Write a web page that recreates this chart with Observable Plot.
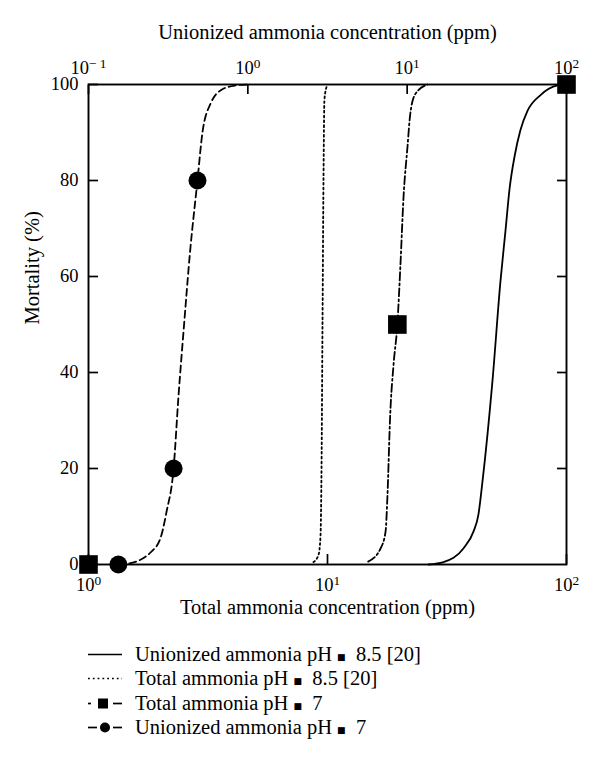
<!DOCTYPE html>
<html><head><meta charset="utf-8">
<script src="https://cdn.jsdelivr.net/npm/d3@7"></script>
<script src="https://cdn.jsdelivr.net/npm/@observablehq/plot@0.6"></script>
<style>
body{margin:0;background:#fff;font-family:"Liberation Serif",serif;color:#000;}
#chart{width:600px;height:622px;}
.legend{margin-top:20px;padding-left:88px;}
.row{height:24.5px;display:flex;align-items:center;font-size:20.5px;white-space:pre;}
.row svg{width:36px;height:25px;margin-right:11px;flex:none;}
.eq{font-family:"DejaVu Sans",sans-serif;font-size:9px;position:relative;top:-1px;}
</style></head><body>
<div id="chart"></div>
<div class="legend" id="legend"></div>
<script>
// ---- axis domains & tick values ----
const unionizedDomain = [0.1, 100];
const totalDomain = [1, 100];
const unionizedTicks = [0.1, 1, 10, 100];
const totalTicks = [1, 10, 100];
const mortalityTicks = [0, 20, 40, 60, 80, 100];

// ---- Unionized ammonia pH 8.5 [20] (solid), unionized ppm ----
const un85Conc = [13.6, 16.9, 22.6, 26.1, 28.0, 29.7, 34.3, 38.5, 41.4, 44.0, 47.2, 51.4, 56.9, 68.7, 87.8, 100];
const un85Mort = [0, 0.5, 3.4, 6.9, 10.4, 17.3, 38.2, 59.0, 69.5, 78.5, 85, 90.5, 94.5, 97.8, 99.8, 100];

// ---- Total ammonia pH 8.5 [20] (dotted), total ppm ----
const tot85Conc = [8.74, 9.17, 9.35, 9.44, 9.53, 9.62, 9.71, 10.0];
const tot85Mort = [0.5, 2, 6, 20, 50, 80, 97, 100];

// ---- Total ammonia pH 7 (dash-dot + squares), total ppm ----
const tot7Conc = [14.8, 16.7, 17.5, 17.8, 18.3, 18.9, 19.6, 20.2, 20.8, 21.6, 22.2, 23.3, 26.2];
const tot7Mort = [0.6, 3.4, 6.9, 13.8, 31.3, 41.7, 50, 62.6, 76.5, 86.9, 93.9, 98, 100];
const tot7PointConc = [1, 19.6, 100];
const tot7PointMort = [0, 50, 100];

// ---- Unionized ammonia pH 7 (dashed + circles), unionized ppm ----
const un7Conc = [0.154, 0.1835, 0.212, 0.245, 0.283, 0.309, 0.342, 0.367, 0.398, 0.4335, 0.483, 0.519, 0.583, 0.693, 0.837, 0.995];
const un7Mort = [0, 0.3, 1, 2.5, 5.5, 11, 20, 35, 50, 65, 80, 90, 96, 99, 99.8, 100];
const un7PointConc = [0.154, 0.342, 0.483];
const un7PointMort = [0, 20, 80];

// ---- mapping of the top (unionized) axis onto the bottom (total) axis ----
const L = Math.log10;
const uToT = u => 10 ** (L(totalDomain[0]) + (L(u) - L(unionizedDomain[0])) / (L(unionizedDomain[1]) - L(unionizedDomain[0])) * (L(totalDomain[1]) - L(totalDomain[0])));
const zip = (xs, ys, conv = d => d) => xs.map((x, i) => ({x: conv(x), y: ys[i]}));
const pow10 = v => "10^" + String(Math.round(L(v)) + 0);

const un85 = zip(un85Conc, un85Mort, uToT);
const tot85 = zip(tot85Conc, tot85Mort);
const tot7 = zip(tot7Conc, tot7Mort);
const tot7Pts = zip(tot7PointConc, tot7PointMort);
const un7 = zip(un7Conc, un7Mort, uToT);
const un7Pts = zip(un7PointConc, un7PointMort, uToT);
const topTicks = unionizedTicks.map(u => ({pos: uToT(u), label: pow10(u)}));
const topLabel = t => { const d = topTicks.find(d => Math.abs(d.pos - t) < 1e-6 * d.pos); return d ? d.label : ""; };

const line = {x: "x", y: "y", stroke: "#000", strokeWidth: 1.8, curve: "monotone-x"};

const chart = Plot.plot({
  width: 600, height: 622,
  marginLeft: 88, marginRight: 34, marginTop: 84, marginBottom: 58,
  style: {fontFamily: '"Liberation Serif", serif', fontSize: "18.5px", color: "#000", background: "#fff", overflow: "visible"},
  x: {type: "log", domain: totalDomain},
  y: {domain: [0, 100]},
  marks: [
    Plot.axisY(mortalityTicks, {anchor: "left", tickSize: 10, insetLeft: 10, tickPadding: 10, label: null, strokeWidth: 1.7}),
    Plot.axisY(mortalityTicks.slice(1, -1), {anchor: "right", tickSize: 10, insetRight: 10, text: () => "", label: null, strokeWidth: 1.7}),
    Plot.axisX(totalTicks, {anchor: "bottom", tickSize: 10, insetBottom: 10, tickPadding: 13, text: d => pow10(d), label: null, strokeWidth: 1.7}),
    Plot.axisX(topTicks.map(d => d.pos), {anchor: "top", tickSize: 9, insetTop: 9, tickPadding: 11, text: d => topLabel(d), label: null, strokeWidth: 1.7}),
    Plot.frame({stroke: "#000", strokeWidth: 1.9}),
    Plot.text(["Unionized ammonia concentration (ppm)"], {text: d => d, frameAnchor: "top", dy: -60, fontSize: 20.5}),
    Plot.text(["Total ammonia concentration (ppm)"], {text: d => d, frameAnchor: "bottom", dy: 49, fontSize: 20.5}),
    Plot.text(["Mortality (%)"], {text: d => d, frameAnchor: "left", dx: -56, rotate: -90, fontSize: 20.5}),
    Plot.line(un85, line),
    Plot.line(tot85, {...line, strokeDasharray: "1.8,3"}),
    Plot.line(tot7, {...line, strokeDasharray: "8,3,2,3"}),
    Plot.line(un7, {...line, strokeDasharray: "7,4"}),
    Plot.dot(un7Pts, {x: "x", y: "y", r: 9, fill: "#000", symbol: "circle"}),
    Plot.dot(tot7Pts, {x: "x", y: "y", r: 10.5, fill: "#000", symbol: "square"})
  ]
});

// superscript exponents in tick labels
chart.querySelectorAll("text").forEach(t => {
  const m = /^10\^(-?\d+)$/.exec(t.textContent);
  if (!m) return;
  t.textContent = "10";
  const s = document.createElementNS("http://www.w3.org/2000/svg", "tspan");
  s.setAttribute("dy", "-0.45em");
  s.setAttribute("font-size", "0.72em");
  s.textContent = m[1].replace("-", "\u2212 ");
  t.appendChild(s);
});
document.getElementById("chart").appendChild(chart);

// legend
const legendItems = [
  {label: "Unionized ammonia pH", value: "8.5 [20]", kind: "solid"},
  {label: "Total ammonia pH", value: "8.5 [20]", kind: "dotted"},
  {label: "Total ammonia pH", value: "7", kind: "dashdot-square"},
  {label: "Unionized ammonia pH", value: "7", kind: "dash-circle"}
];
const swatch = k => {
  if (k === "solid") return `<line x1="0" x2="34" y1="12.5" y2="12.5" stroke="#000" stroke-width="1.7"/>`;
  if (k === "dotted") return `<line x1="0" x2="34" y1="12.5" y2="12.5" stroke="#000" stroke-width="1.7" stroke-dasharray="1.8,3"/>`;
  if (k === "dashdot-square") return `<line x1="0" x2="3" y1="12.5" y2="12.5" stroke="#000" stroke-width="1.7"/><rect x="10" y="7.5" width="10" height="10" fill="#000"/><line x1="25" x2="34" y1="12.5" y2="12.5" stroke="#000" stroke-width="1.7"/>`;
  return `<line x1="0" x2="9" y1="12.5" y2="12.5" stroke="#000" stroke-width="1.7"/><circle cx="17" cy="12.5" r="5" fill="#000"/><line x1="25" x2="34" y1="12.5" y2="12.5" stroke="#000" stroke-width="1.7"/>`;
};
document.getElementById("legend").innerHTML = legendItems.map(d =>
  `<div class="row"><svg viewBox="0 0 36 25">${swatch(d.kind)}</svg><span>${d.label} <span class="eq">\u25A0</span>  ${d.value}</span></div>`
).join("");
</script>
</body></html>
